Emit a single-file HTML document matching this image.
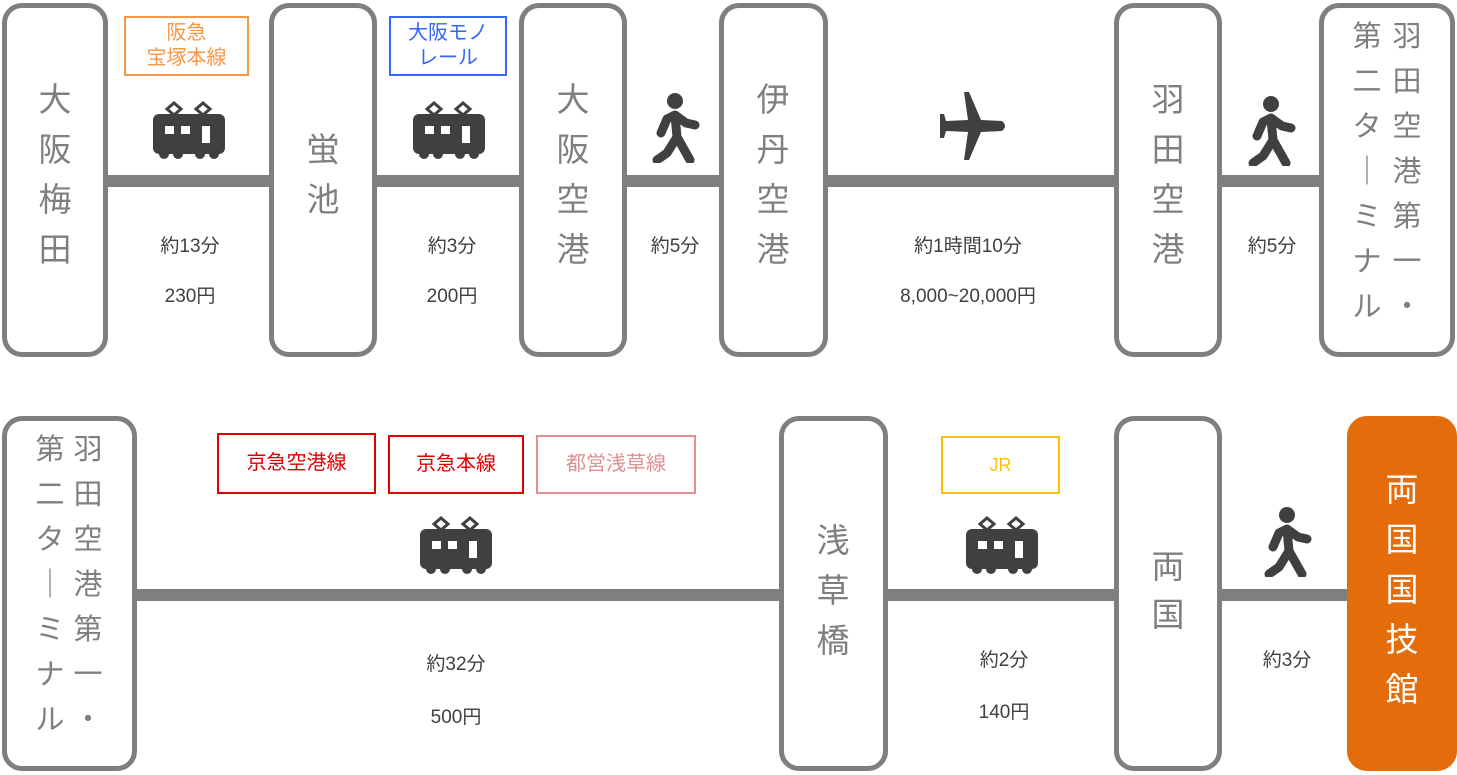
<!DOCTYPE html>
<html><head><meta charset="utf-8"><style>
body{margin:0;width:1457px;height:775px;position:relative;background:#fff;overflow:hidden;font-family:"Liberation Sans","Noto Sans CJK JP",sans-serif}
.b{position:absolute;box-sizing:border-box;border:5px solid #7f7f7f;border-radius:20px;background:#fff}
.l{position:absolute;background:#7f7f7f;height:12px}
.t{position:absolute;text-align:center;color:#7f7f7f;font-size:33px;width:60px;margin-left:-30px}
.s{position:absolute;text-align:center;color:#404040;font-size:19px;width:240px;margin-left:-120px;line-height:24px}
.lb{position:absolute;box-sizing:border-box;border:2px solid;text-align:center;font-size:20px;display:flex;align-items:center;justify-content:center;line-height:25px}
svg{position:absolute}
</style></head><body>
<svg width="0" height="0" style="position:absolute"><defs>
<g id="tr"><path d="M14 8 L21 2 L28 8 L21 14 Z M43 8 L50 2 L57 8 L50 14 Z" fill="none" stroke="#404040" stroke-width="3"/>
<rect x="0" y="13" width="72" height="40" rx="6" fill="#404040"/>
<rect x="12" y="25" width="9" height="8" fill="#fff"/><rect x="28" y="25" width="9" height="8" fill="#fff"/><rect x="49" y="25" width="8" height="17" fill="#fff"/>
<circle cx="11" cy="53" r="5" fill="#404040"/><circle cx="25" cy="53" r="5" fill="#404040"/><circle cx="47" cy="53" r="5" fill="#404040"/><circle cx="61" cy="53" r="5" fill="#404040"/></g>
<g id="wk"><circle cx="26" cy="10" r="8" fill="#404040"/><path d="M12 42 L18 28 L26 24 L37 32 L46 34 M26 24 L28 46 L18 62 L8 69 M28 46 L41 69" fill="none" stroke="#404040" stroke-width="9" stroke-linecap="round" stroke-linejoin="round"/></g>
</defs></svg>

<div class="l" style="left:100px;top:175px;width:1230px"></div>
<div class="l" style="left:130px;top:589px;width:1230px"></div>

<div class="b" style="left:2px;top:3px;width:106px;height:354px"></div>
<div class="b" style="left:269px;top:3px;width:108px;height:354px"></div>
<div class="b" style="left:519px;top:3px;width:108px;height:354px"></div>
<div class="b" style="left:719px;top:3px;width:109px;height:354px"></div>
<div class="b" style="left:1114px;top:3px;width:108px;height:354px"></div>
<div class="b" style="left:1319px;top:3px;width:136px;height:354px"></div>

<div class="b" style="left:2px;top:416px;width:135px;height:355px"></div>
<div class="b" style="left:779px;top:416px;width:109px;height:355px"></div>
<div class="b" style="left:1114px;top:416px;width:108px;height:355px"></div>
<div class="b" style="left:1347px;top:416px;width:110px;height:355px;background:#e46c0a;border-color:#e46c0a"></div>

<div class="t" style="left:55px;top:75px;line-height:50px">大<br>阪<br>梅<br>田</div>
<div class="t" style="left:323px;top:125px;line-height:50px">蛍<br>池</div>
<div class="t" style="left:573px;top:75px;line-height:50px">大<br>阪<br>空<br>港</div>
<div class="t" style="left:773px;top:75px;line-height:50px">伊<br>丹<br>空<br>港</div>
<div class="t" style="left:1168px;top:75px;line-height:50px">羽<br>田<br>空<br>港</div>
<div class="t" style="left:1367px;top:15px;line-height:45px;font-size:29px">第<br>二<br>タ<br>｜<br>ミ<br>ナ<br>ル</div>
<div class="t" style="left:1407px;top:15px;line-height:45px;font-size:29px">羽<br>田<br>空<br>港<br>第<br>一<br>・</div>
<div class="t" style="left:50px;top:428px;line-height:45px;font-size:29px">第<br>二<br>タ<br>｜<br>ミ<br>ナ<br>ル</div>
<div class="t" style="left:88px;top:428px;line-height:45px;font-size:29px">羽<br>田<br>空<br>港<br>第<br>一<br>・</div>
<div class="t" style="left:833px;top:516px;line-height:50px">浅<br>草<br>橋</div>
<div class="t" style="left:1168px;top:543px;line-height:48px">両<br>国</div>
<div class="t" style="left:1402px;top:465px;line-height:50px;color:#fff">両<br>国<br>国<br>技<br>館</div>

<div class="lb" style="left:124px;top:16px;width:125px;height:60px;border-color:#f79646;color:#f79646">阪急<br>宝塚本線</div>
<div class="lb" style="left:389px;top:16px;width:118px;height:60px;border-color:#3366ff;color:#3366ff">大阪モノ<br>レール</div>
<div class="lb" style="left:217px;top:433px;width:159px;height:61px;border-color:#e00000;color:#e00000">京急空港線</div>
<div class="lb" style="left:388px;top:435px;width:136px;height:59px;border-color:#e00000;color:#e00000">京急本線</div>
<div class="lb" style="left:536px;top:435px;width:160px;height:59px;border-color:#e09090;color:#e09090">都営浅草線</div>
<div class="lb" style="left:941px;top:436px;width:119px;height:58px;border-color:#ffc000;color:#ffc000;font-size:18px">JR</div>

<svg style="left:153px;top:101px" width="72" height="60"><use href="#tr"/></svg>
<svg style="left:413px;top:101px" width="72" height="60"><use href="#tr"/></svg>
<svg style="left:420px;top:516px" width="72" height="60"><use href="#tr"/></svg>
<svg style="left:966px;top:516px" width="72" height="60"><use href="#tr"/></svg>
<svg style="left:649px;top:91px" width="52" height="72"><use href="#wk"/></svg>
<svg style="left:1245px;top:94px" width="52" height="72"><use href="#wk"/></svg>
<svg style="left:1261px;top:505px" width="52" height="72"><use href="#wk"/></svg>
<svg style="left:936px;top:90px" width="72" height="72"><path d="M28 2 L33 2 L45 30 L66 31 Q72 36 66 41 L45 42 L33 70 L28 70 L32 42 L10 41 L8 48 L4 48 L4 24 L8 24 L10 31 L32 30 Z" fill="#404040"/></svg>

<div class="s" style="left:190px;top:235px">約13分</div>
<div class="s" style="left:190px;top:285px">230円</div>
<div class="s" style="left:452px;top:235px">約3分</div>
<div class="s" style="left:452px;top:285px">200円</div>
<div class="s" style="left:675px;top:235px">約5分</div>
<div class="s" style="left:968px;top:235px">約1時間10分</div>
<div class="s" style="left:968px;top:285px">8,000~20,000円</div>
<div class="s" style="left:1272px;top:235px">約5分</div>
<div class="s" style="left:456px;top:653px">約32分</div>
<div class="s" style="left:456px;top:706px">500円</div>
<div class="s" style="left:1004px;top:649px">約2分</div>
<div class="s" style="left:1004px;top:701px">140円</div>
<div class="s" style="left:1287px;top:649px">約3分</div>
</body></html>
